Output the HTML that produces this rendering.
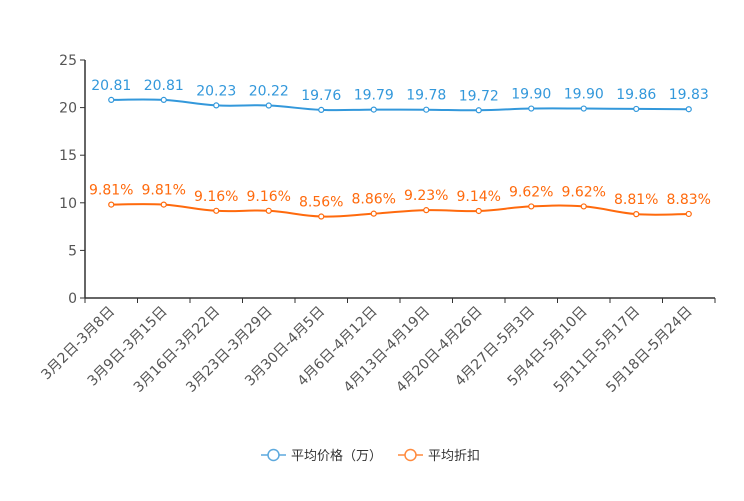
<!DOCTYPE html>
<html><head><meta charset="utf-8"><style>
body{margin:0;background:#fff}
svg text{font-family:"DejaVu Sans","Liberation Sans","Noto Sans CJK SC",sans-serif}
</style></head><body>
<svg id="c" width="744" height="496"></svg>
<script>
const categories=["3月2日-3月8日","3月9日-3月15日","3月16日-3月22日","3月23日-3月29日","3月30日-4月5日","4月6日-4月12日","4月13日-4月19日","4月20日-4月26日","4月27日-5月3日","5月4日-5月10日","5月11日-5月17日","5月18日-5月24日"];
const priceValues=[20.81,20.81,20.23,20.22,19.76,19.79,19.78,19.72,19.90,19.90,19.86,19.83];
const discountValues=[9.81,9.81,9.16,9.16,8.56,8.86,9.23,9.14,9.62,9.62,8.81,8.83];
const yTicks=[0,5,10,15,20,25];
const NS="http://www.w3.org/2000/svg";
const svg=document.getElementById('c');
const X0=85,X1=715,Y0=298,Y1=60,band=(X1-X0)/categories.length;
const x=i=>X0+band*(i+0.5);
const y=v=>Y0-(v/25)*(Y0-Y1);
function mk(t,a,p){const e=document.createElementNS(NS,t);for(const k in a)e.setAttribute(k,a[k]);(p||svg).appendChild(e);return e;}
let ax=mk('line',{x1:X0,y1:Y1,x2:X0,y2:Y0,stroke:'#333','stroke-width':1.5});


yTicks.forEach(v=>{
  mk('line',{x1:X0-5,y1:y(v),x2:X0,y2:y(v),stroke:'#333'});
  const t=mk('text',{x:X0-8,y:y(v)+5,'text-anchor':'end','font-size':14,fill:'#555'});
  t.textContent=v;
  
  
});
let xa=mk('line',{x1:X0,y1:Y0,x2:X1,y2:Y0,stroke:'#333','stroke-width':1.5});


for(let i=0;i<=categories.length;i++){mk('line',{x1:X0+band*i,y1:Y0,x2:X0+band*i,y2:Y0+5,stroke:'#333'});}
categories.forEach((c,i)=>{
  const t=mk('text',{x:x(i)+4,y:Y0+14,'text-anchor':'end','font-size':14,fill:'#555',transform:`rotate(-45 ${x(i)+4} ${Y0+14})`});
  t.textContent=c;
  
  
});
function path(vals){
  const p=vals.map((v,i)=>[x(i),y(v)]);let d=`M${p[0][0]},${p[0][1]}`;
  for(let i=0;i<p.length-1;i++){
    const p0=p[Math.max(i-1,0)],p1=p[i],p2=p[i+1],p3=p[Math.min(i+2,p.length-1)];
    const k=0.2;
    d+=` C${p1[0]+(p2[0]-p0[0])*k},${p1[1]+(p2[1]-p0[1])*k} ${p2[0]-(p3[0]-p1[0])*k},${p2[1]-(p3[1]-p1[1])*k} ${p2[0]},${p2[1]}`;
  }
  return d;
}
function series(vals,color,name,fmt){
  const g=mk('g',{});
  
  
  mk('path',{d:path(vals),fill:'none',stroke:color,'stroke-width':2},g);
  vals.forEach((v,i)=>{
    const c=mk('circle',{cx:x(i),cy:y(v),r:2.5,fill:'#fff',stroke:color,'stroke-width':1.2},g);
    
    
    const t=mk('text',{x:x(i),y:y(v)-10,'text-anchor':'middle','font-size':14,fill:color},g);
    t.textContent=fmt(v);
    
    
  });
}
series(priceValues,'#3398DB','price-series',v=>v.toFixed(2));
series(discountValues,'#FF6A0D','discount-series',v=>v.toFixed(2)+'%');
function legend(lx,color,label,name){
  const g=mk('g',{});
  
  
  mk('line',{x1:lx,y1:455,x2:lx+25,y2:455,stroke:color,'stroke-width':1.5},g);
  mk('circle',{cx:lx+12.5,cy:455,r:5.5,fill:'#fff',stroke:color,'stroke-width':1.5},g);
  const t=mk('text',{x:lx+30,y:460,'font-size':13,fill:'#333'},g);t.textContent=label;
}
legend(261,'#5DA9DD','平均价格（万）','legend-price');
legend(398,'#FF8A3D','平均折扣','legend-discount');
</script>
</body></html>
